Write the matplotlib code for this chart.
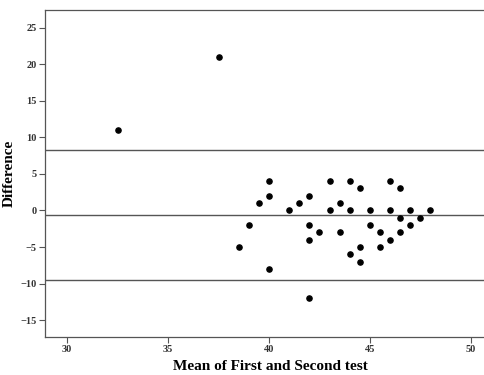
import matplotlib.pyplot as plt

# Bland-Altman data
mean_vals = [32.5, 37.5, 38.5, 39, 39.5, 40, 40, 40, 41, 41.5,
             42, 42, 42, 42, 42.5, 43, 43, 43.5, 43.5, 44,
             44, 44, 44.5, 44.5, 44.5, 45, 45, 45.5, 45.5, 46,
             46, 46, 46.5, 46.5, 46.5, 47, 47, 47.5, 48]
diff_vals = [11, 21, -5, -2, 1, 4, 2, -8, 0, 1,
             2, -2, -4, -12, -3, 4, 0, 1, -3, 4,
             0, -6, 3, -5, -7, 0, -2, -3, -5, 4,
             0, -4, 3, -1, -3, 0, -2, -1, 0]

mean_diff = -0.62
upper_loa = 8.31
lower_loa = -9.55

xticks = [30, 35, 40, 45, 50]
yticks = [-15, -10, -5, 0, 5, 10, 15, 20, 25]

plt.rcParams['font.family'] = ['Liberation Serif', 'DejaVu Serif']

fig = plt.figure(figsize=(4.84, 3.75), dpi=100)
ax = fig.add_axes([45 / 484, 38 / 375, 450 / 484, 327 / 375])

ax.scatter(mean_vals, diff_vals, s=14, color='black', zorder=3)
for yv in [upper_loa, mean_diff, lower_loa]:
    ax.axhline(yv, color='#555555', linewidth=1.0, zorder=2)

ax.set_xlim(28.9, 51.2)
ax.set_ylim(-17.3, 27.4)
ax.set_xticks(xticks)
ax.set_yticks(yticks)
ax.tick_params(direction='out', length=4, width=0.8, color='#555555',
               labelsize=7.5, pad=2)
for lbl in ax.get_xticklabels() + ax.get_yticklabels():
    lbl.set_fontweight('bold')
    lbl.set_color('#333333')

for side in ['top', 'right', 'left', 'bottom']:
    ax.spines[side].set_color('#555555')
    ax.spines[side].set_linewidth(0.9)

ax.set_xlabel('Mean of First and Second test', fontsize=11, fontweight='bold',
              labelpad=4)
ax.set_ylabel('Difference', fontsize=11, fontweight='bold', labelpad=3)

fig.savefig('out.png', dpi=100)
